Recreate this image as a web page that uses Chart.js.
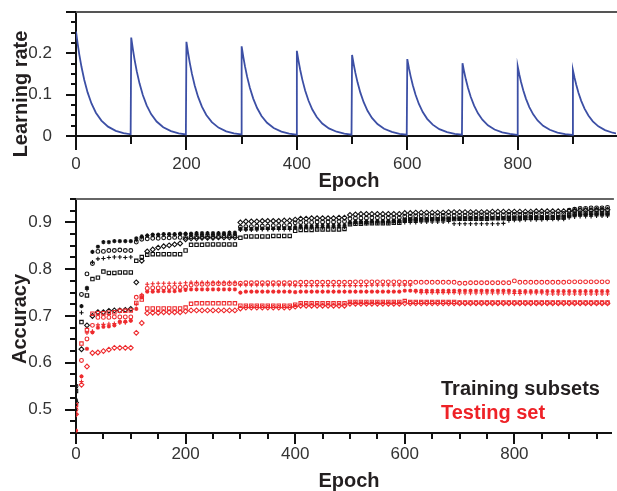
<!DOCTYPE html>
<html>
<head>
<meta charset="utf-8">
<script src="https://cdn.jsdelivr.net/npm/chart.js@4.4.1/dist/chart.umd.min.js"></script>
<style>
  body { margin: 0; background: #fff; width: 617px; height: 491px; overflow: hidden; position: relative; font-family: "Liberation Sans", Arial, sans-serif; }
  canvas { position: absolute; left: 0; }
  #lrChart { top: 0; }
  #accChart { top: 190px; }
  .lbl { position: absolute; font-weight: bold; font-size: 20px; line-height: 20px; white-space: nowrap; color: #231f20; }
</style>
</head>
<body>
<canvas id="lrChart" width="617" height="190"></canvas>
<canvas id="accChart" width="617" height="301"></canvas>

<div class="lbl" style="left:20px; top:94px; transform:translate(-50%,-50%) rotate(-90deg);">Learning rate</div>
<div class="lbl" style="left:349px; top:180px; transform:translate(-50%,-50%);">Epoch</div>
<div class="lbl" style="left:19px; top:319px; transform:translate(-50%,-50%) rotate(-90deg);">Accuracy</div>
<div class="lbl" style="left:349px; top:480px; transform:translate(-50%,-50%);">Epoch</div>
<div class="lbl" style="left:441px; top:388px; transform:translateY(-50%);">Training subsets</div>
<div class="lbl" style="left:441px; top:412px; transform:translateY(-50%); color:#ee2227;">Testing set</div>

<script>
// ---- learning rate schedule (restart every 100 epochs) ----
const cycleStarts = [0, 100, 200, 300, 400, 500, 600, 700, 800, 900];
const lrOffsets = [0, 3, 6, 10, 15, 21, 28, 36, 46, 58, 72, 86, 99];
const lrByCycle = [
  [0.253, 0.2233, 0.197, 0.1668, 0.1354, 0.1055, 0.0788, 0.0564, 0.0372, 0.0226, 0.0126, 0.007, 0.0041],
  [0.238, 0.21, 0.1854, 0.1569, 0.1274, 0.0992, 0.0741, 0.0531, 0.035, 0.0212, 0.0119, 0.0066, 0.0039],
  [0.228, 0.2012, 0.1776, 0.1503, 0.122, 0.0951, 0.071, 0.0509, 0.0335, 0.0203, 0.0114, 0.0063, 0.0037],
  [0.217, 0.1915, 0.169, 0.143, 0.1162, 0.0905, 0.0676, 0.0484, 0.0319, 0.0194, 0.0108, 0.006, 0.0035],
  [0.206, 0.1818, 0.1604, 0.1358, 0.1103, 0.0859, 0.0641, 0.046, 0.0303, 0.0184, 0.0103, 0.0057, 0.0033],
  [0.196, 0.173, 0.1526, 0.1292, 0.1049, 0.0817, 0.061, 0.0437, 0.0288, 0.0175, 0.0098, 0.0054, 0.0032],
  [0.186, 0.1641, 0.1449, 0.1226, 0.0996, 0.0775, 0.0579, 0.0415, 0.0274, 0.0166, 0.0093, 0.0052, 0.003],
  [0.176, 0.1553, 0.1371, 0.116, 0.0942, 0.0734, 0.0548, 0.0393, 0.0259, 0.0157, 0.0088, 0.0049, 0.0029],
  [0.168, 0.1483, 0.1308, 0.1107, 0.0899, 0.07, 0.0523, 0.0375, 0.0247, 0.015, 0.0084, 0.0047, 0.0027],
  [0.159, 0.1403, 0.1238, 0.1048, 0.0851, 0.0663, 0.0495, 0.0355, 0.0234, 0.0142, 0.0079, 0.0044, 0.0026]
];
const lrTickLabels = [0, 0.1, 0.2];
const epochTickLabels = [0, 200, 400, 600, 800];
const accTickLabels = [0.5, 0.6, 0.7, 0.8, 0.9];

// ---- accuracy, one point every 10 epochs ----
const epochs = [
  0, 10, 20, 30, 40, 50, 60, 70, 80, 90,
  100, 110, 120, 130, 140, 150, 160, 170, 180, 190,
  200, 210, 220, 230, 240, 250, 260, 270, 280, 290,
  300, 310, 320, 330, 340, 350, 360, 370, 380, 390,
  400, 410, 420, 430, 440, 450, 460, 470, 480, 490,
  500, 510, 520, 530, 540, 550, 560, 570, 580, 590,
  600, 610, 620, 630, 640, 650, 660, 670, 680, 690,
  700, 710, 720, 730, 740, 750, 760, 770, 780, 790,
  800, 810, 820, 830, 840, 850, 860, 870, 880, 890,
  900, 910, 920, 930, 940, 950, 960, 970
];

// training subsets (black)
const trainStar = [
  0.52, 0.721, 0.76, 0.837, 0.848, 0.858, 0.858, 0.86, 0.86, 0.86,
  0.86, 0.866, 0.87, 0.872, 0.874, 0.874, 0.875, 0.875, 0.875, 0.876,
  0.876, 0.876, 0.877, 0.877, 0.877, 0.877, 0.877, 0.877, 0.878, 0.878,
  0.886, 0.886, 0.886, 0.887, 0.887, 0.887, 0.887, 0.888, 0.888, 0.888,
  0.89, 0.892, 0.892, 0.892, 0.893, 0.893, 0.893, 0.893, 0.894, 0.894,
  0.9, 0.902, 0.902, 0.902, 0.903, 0.903, 0.903, 0.903, 0.904, 0.904,
  0.905, 0.906, 0.906, 0.907, 0.907, 0.907, 0.907, 0.908, 0.908, 0.908,
  0.908, 0.909, 0.909, 0.909, 0.909, 0.909, 0.909, 0.909, 0.909, 0.91,
  0.91, 0.91, 0.911, 0.911, 0.911, 0.911, 0.911, 0.912, 0.912, 0.912,
  0.914, 0.916, 0.917, 0.917, 0.917, 0.918, 0.918, 0.918
];
const trainPlus = [
  0.51, 0.707, 0.757, 0.815, 0.822, 0.823, 0.825, 0.826, 0.826, 0.825,
  0.826, 0.862, 0.868, 0.872, 0.873, 0.873, 0.874, 0.874, 0.874, 0.875,
  0.875, 0.873, 0.874, 0.874, 0.874, 0.874, 0.875, 0.875, 0.875, 0.875,
  0.884, 0.884, 0.884, 0.884, 0.885, 0.885, 0.885, 0.885, 0.885, 0.885,
  0.888, 0.889, 0.889, 0.889, 0.889, 0.889, 0.89, 0.89, 0.89, 0.89,
  0.897, 0.898, 0.898, 0.898, 0.899, 0.899, 0.899, 0.899, 0.9, 0.9,
  0.9, 0.9, 0.9, 0.901, 0.901, 0.901, 0.901, 0.901, 0.902, 0.897,
  0.897, 0.897, 0.897, 0.897, 0.897, 0.897, 0.897, 0.897, 0.898, 0.904,
  0.905, 0.905, 0.906, 0.906, 0.906, 0.906, 0.907, 0.907, 0.907, 0.907,
  0.91, 0.912, 0.913, 0.913, 0.913, 0.914, 0.914, 0.914
];
const trainCircle = [
  0.55, 0.746, 0.79, 0.812, 0.838, 0.838, 0.84, 0.84, 0.841, 0.84,
  0.84, 0.858, 0.864, 0.865, 0.866, 0.866, 0.867, 0.867, 0.868, 0.868,
  0.868, 0.869, 0.869, 0.87, 0.87, 0.87, 0.87, 0.871, 0.871, 0.871,
  0.89, 0.891, 0.891, 0.892, 0.892, 0.892, 0.893, 0.893, 0.893, 0.894,
  0.899, 0.9, 0.9, 0.9, 0.901, 0.901, 0.901, 0.901, 0.902, 0.902,
  0.908, 0.909, 0.909, 0.909, 0.91, 0.91, 0.91, 0.91, 0.91, 0.91,
  0.913, 0.913, 0.914, 0.914, 0.914, 0.914, 0.914, 0.915, 0.915, 0.915,
  0.915, 0.915, 0.916, 0.916, 0.916, 0.916, 0.916, 0.916, 0.916, 0.917,
  0.917, 0.917, 0.917, 0.918, 0.918, 0.918, 0.918, 0.918, 0.918, 0.919,
  0.926, 0.928, 0.93, 0.93, 0.931, 0.931, 0.931, 0.932
];
const trainSquare = [
  0.54, 0.687, 0.744, 0.779, 0.782, 0.795, 0.792, 0.792, 0.793, 0.793,
  0.793, 0.818, 0.826, 0.831, 0.832, 0.832, 0.832, 0.832, 0.832, 0.832,
  0.84, 0.852, 0.852, 0.852, 0.853, 0.853, 0.853, 0.853, 0.853, 0.853,
  0.867, 0.87, 0.87, 0.87, 0.87, 0.87, 0.871, 0.871, 0.871, 0.871,
  0.882, 0.884, 0.884, 0.884, 0.885, 0.885, 0.885, 0.885, 0.885, 0.886,
  0.896, 0.897, 0.897, 0.898, 0.898, 0.898, 0.898, 0.898, 0.899, 0.899,
  0.905, 0.906, 0.906, 0.906, 0.906, 0.907, 0.907, 0.907, 0.907, 0.907,
  0.908, 0.908, 0.908, 0.908, 0.908, 0.908, 0.909, 0.909, 0.909, 0.909,
  0.909, 0.909, 0.91, 0.91, 0.91, 0.91, 0.91, 0.91, 0.911, 0.911,
  0.916, 0.918, 0.919, 0.919, 0.92, 0.92, 0.92, 0.92
];
const trainDiamond = [
  0.515, 0.629, 0.68, 0.7, 0.708, 0.708, 0.711, 0.712, 0.712, 0.713,
  0.715, 0.772, 0.818, 0.838, 0.842, 0.846, 0.849, 0.851, 0.853, 0.855,
  0.864, 0.866, 0.866, 0.867, 0.867, 0.867, 0.868, 0.868, 0.868, 0.868,
  0.9, 0.902, 0.902, 0.902, 0.903, 0.903, 0.903, 0.903, 0.904, 0.904,
  0.906, 0.908, 0.908, 0.909, 0.909, 0.909, 0.909, 0.909, 0.91, 0.91,
  0.916, 0.917, 0.918, 0.918, 0.918, 0.918, 0.918, 0.918, 0.918, 0.918,
  0.92, 0.92, 0.921, 0.921, 0.921, 0.921, 0.921, 0.921, 0.922, 0.922,
  0.922, 0.922, 0.922, 0.922, 0.922, 0.922, 0.923, 0.923, 0.923, 0.923,
  0.923, 0.923, 0.923, 0.923, 0.924, 0.924, 0.924, 0.924, 0.924, 0.924,
  0.924, 0.925, 0.926, 0.926, 0.926, 0.927, 0.927, 0.927
];

// testing set (red)
const testCircle = [
  0.5, 0.605, 0.651, 0.68, 0.697, 0.697, 0.697, 0.698, 0.698, 0.698,
  0.698, 0.74, 0.743, 0.759, 0.76, 0.76, 0.76, 0.761, 0.761, 0.761,
  0.762, 0.766, 0.768, 0.768, 0.768, 0.769, 0.769, 0.769, 0.769, 0.769,
  0.77, 0.771, 0.771, 0.771, 0.771, 0.771, 0.771, 0.771, 0.771, 0.771,
  0.771, 0.772, 0.772, 0.772, 0.772, 0.772, 0.772, 0.772, 0.772, 0.772,
  0.772, 0.773, 0.773, 0.773, 0.773, 0.773, 0.773, 0.773, 0.773, 0.773,
  0.772, 0.772, 0.772, 0.772, 0.772, 0.772, 0.772, 0.772, 0.772, 0.772,
  0.77, 0.77, 0.771, 0.771, 0.771, 0.771, 0.771, 0.771, 0.771, 0.771,
  0.775, 0.772, 0.772, 0.772, 0.772, 0.772, 0.772, 0.772, 0.772, 0.772,
  0.773, 0.773, 0.773, 0.773, 0.773, 0.773, 0.773, 0.773
];
const testPlus = [
  0.49, 0.56, 0.664, 0.667, 0.681, 0.682, 0.683, 0.684, 0.685, 0.686,
  0.69, 0.725, 0.745, 0.768, 0.769, 0.77, 0.77, 0.77, 0.77, 0.77,
  0.771, 0.772, 0.772, 0.772, 0.772, 0.772, 0.772, 0.772, 0.772, 0.772,
  0.766, 0.766, 0.766, 0.766, 0.766, 0.766, 0.766, 0.766, 0.766, 0.766,
  0.765, 0.765, 0.765, 0.765, 0.765, 0.765, 0.765, 0.765, 0.765, 0.765,
  0.765, 0.765, 0.765, 0.765, 0.766, 0.766, 0.766, 0.766, 0.766, 0.766,
  0.766, 0.766, 0.752, 0.75, 0.75, 0.75, 0.75, 0.75, 0.75, 0.75,
  0.749, 0.749, 0.749, 0.749, 0.749, 0.749, 0.749, 0.749, 0.749, 0.749,
  0.748, 0.748, 0.749, 0.749, 0.749, 0.749, 0.747, 0.747, 0.747, 0.747,
  0.747, 0.747, 0.747, 0.747, 0.747, 0.747, 0.747, 0.747
];
const testStar = [
  0.455, 0.571, 0.63, 0.665, 0.675, 0.677, 0.678, 0.68, 0.688, 0.688,
  0.69, 0.715, 0.74, 0.752, 0.752, 0.753, 0.753, 0.753, 0.753, 0.754,
  0.756, 0.757, 0.757, 0.757, 0.757, 0.757, 0.757, 0.757, 0.757, 0.757,
  0.75, 0.752, 0.752, 0.752, 0.752, 0.752, 0.752, 0.752, 0.752, 0.752,
  0.751, 0.752, 0.752, 0.752, 0.752, 0.752, 0.752, 0.752, 0.752, 0.752,
  0.752, 0.752, 0.752, 0.752, 0.752, 0.752, 0.752, 0.752, 0.752, 0.752,
  0.754, 0.754, 0.754, 0.754, 0.754, 0.754, 0.754, 0.754, 0.754, 0.754,
  0.754, 0.754, 0.754, 0.754, 0.754, 0.754, 0.754, 0.754, 0.754, 0.754,
  0.753, 0.753, 0.753, 0.753, 0.753, 0.753, 0.753, 0.753, 0.753, 0.753,
  0.753, 0.753, 0.753, 0.753, 0.753, 0.753, 0.753, 0.753
];
const testSquare = [
  0.51, 0.641, 0.67, 0.705, 0.706, 0.706, 0.707, 0.708, 0.711, 0.711,
  0.712, 0.728, 0.735, 0.716, 0.716, 0.716, 0.716, 0.716, 0.716, 0.716,
  0.718, 0.726, 0.727, 0.727, 0.727, 0.727, 0.727, 0.727, 0.727, 0.727,
  0.722, 0.722, 0.722, 0.722, 0.722, 0.722, 0.722, 0.722, 0.722, 0.722,
  0.724, 0.727, 0.727, 0.727, 0.727, 0.727, 0.727, 0.727, 0.727, 0.727,
  0.73, 0.73, 0.73, 0.73, 0.73, 0.73, 0.73, 0.73, 0.73, 0.73,
  0.732, 0.73, 0.73, 0.73, 0.73, 0.73, 0.73, 0.73, 0.73, 0.73,
  0.729, 0.729, 0.729, 0.729, 0.729, 0.729, 0.729, 0.729, 0.729, 0.729,
  0.729, 0.729, 0.729, 0.729, 0.729, 0.729, 0.729, 0.729, 0.729, 0.729,
  0.729, 0.729, 0.729, 0.729, 0.729, 0.729, 0.729, 0.729
];
const testDiamond = [
  0.49, 0.553, 0.592, 0.621, 0.622, 0.625, 0.628, 0.632, 0.632, 0.632,
  0.632, 0.664, 0.685, 0.706, 0.707, 0.707, 0.708, 0.708, 0.708, 0.708,
  0.71, 0.712, 0.712, 0.712, 0.712, 0.712, 0.712, 0.712, 0.712, 0.712,
  0.716, 0.718, 0.718, 0.718, 0.718, 0.718, 0.718, 0.718, 0.718, 0.718,
  0.72, 0.722, 0.722, 0.722, 0.722, 0.722, 0.722, 0.722, 0.722, 0.722,
  0.726, 0.726, 0.726, 0.726, 0.726, 0.726, 0.726, 0.726, 0.726, 0.726,
  0.727, 0.727, 0.727, 0.727, 0.727, 0.727, 0.727, 0.727, 0.727, 0.727,
  0.727, 0.727, 0.727, 0.727, 0.727, 0.727, 0.727, 0.727, 0.727, 0.727,
  0.727, 0.727, 0.727, 0.727, 0.727, 0.727, 0.727, 0.727, 0.727, 0.727,
  0.727, 0.727, 0.727, 0.727, 0.727, 0.727, 0.727, 0.727
];

const BLACK = '#111111';
const RED = '#ee2b2e';
const FONT = '"Liberation Sans", Arial, sans-serif';

Chart.defaults.font.family = FONT;
Chart.defaults.color = '#333';

// outward tick marks, long at labelled values and short in between
const tickMarks = {
  id: 'tickMarks',
  afterDraw(chart, args, opts) {
    const ctx = chart.ctx;
    const area = chart.chartArea;
    ctx.save();
    // top frame line
    ctx.strokeStyle = opts.frameColor;
    ctx.lineWidth = 2;
    ctx.beginPath();
    ctx.moveTo(area.left, area.top);
    ctx.lineTo(area.right + 2, area.top);
    ctx.stroke();

    ctx.strokeStyle = '#111';
    ctx.lineWidth = 2;
    ['x', 'y'].forEach(id => {
      const s = chart.scales[id];
      const o = opts[id];
      const start = Math.ceil(s.min / o.step - 1e-9);
      for (let i = start; ; i++) {
        const v = i * o.step;
        if (v > s.max + 1e-9) break;
        const r = v / o.major;
        const len = Math.abs(r - Math.round(r)) < 1e-6 ? o.majorLen : o.minorLen;
        const p = Math.round(s.getPixelForValue(v));
        ctx.beginPath();
        if (id === 'x') {
          ctx.moveTo(p, area.bottom);
          ctx.lineTo(p, area.bottom + len);
        } else {
          ctx.moveTo(area.left, p);
          ctx.lineTo(area.left - len, p);
        }
        ctx.stroke();
      }
    });
    ctx.restore();
  }
};

function xAxis(height, pad) {
  return {
    type: 'linear', min: 0, max: 978,
    grid: { display: false },
    border: { display: true, color: '#111', width: 2 },
    afterBuildTicks: s => { s.ticks = epochTickLabels.map(v => ({ value: v })); },
    ticks: {
      autoSkip: false, maxRotation: 0, padding: pad,
      font: { size: 17 },
      callback: v => String(v)
    },
    afterFit: s => { s.height = height; s.paddingLeft = 0; s.paddingRight = 0; }
  };
}

function yAxis(min, max, labels, fmt) {
  return {
    min: min, max: max,
    grid: { display: false },
    border: { display: true, color: '#111', width: 2 },
    afterBuildTicks: s => { s.ticks = labels.map(v => ({ value: v })); },
    ticks: {
      autoSkip: false, padding: 16,
      font: { size: 17 },
      callback: fmt
    },
    afterFit: s => { s.width = 76; s.paddingTop = 0; s.paddingBottom = 0; }
  };
}

// ---- top chart: learning rate ----
const lrPoints = [];
cycleStarts.forEach((c, ci) => {
  lrOffsets.forEach((off, k) => {
    lrPoints.push({ x: c + off, y: lrByCycle[ci][k] });
  });
});

new Chart(document.getElementById('lrChart'), {
  type: 'line',
  data: {
    datasets: [{
      data: lrPoints,
      borderColor: '#3c4fa5',
      borderWidth: 1.8,
      pointRadius: 0,
      tension: 0,
      fill: false
    }]
  },
  options: {
    responsive: false,
    animation: false,
    layout: { padding: { top: 12, right: 1, left: 0, bottom: 0 } },
    plugins: {
      legend: { display: false },
      tooltip: { enabled: false },
      tickMarks: {
        frameColor: '#555',
        x: { step: 100, major: 200, majorLen: 14, minorLen: 8 },
        y: { step: 0.025, major: 0.1, majorLen: 10, minorLen: 5 }
      }
    },
    scales: {
      x: xAxis(54, 10),
      y: yAxis(0, 0.3, lrTickLabels, v => (v === 0 ? '0' : v.toFixed(1)))
    }
  },
  plugins: [tickMarks]
});

// ---- bottom chart: accuracy ----
function series(values, style, color, radius) {
  return {
    data: epochs.map((e, i) => ({ x: e, y: values[i] })),
    pointStyle: style,
    pointRadius: radius,
    pointBorderWidth: 1.1,
    pointBorderColor: color,
    pointBackgroundColor: 'rgba(0,0,0,0)',
    showLine: false
  };
}

new Chart(document.getElementById('accChart'), {
  type: 'scatter',
  data: {
    datasets: [
      series(testDiamond, 'rectRot', RED, 2.4),
      series(testSquare, 'rect', RED, 2.4),
      series(testStar, 'star', RED, 2.1),
      series(testPlus, 'cross', RED, 2.1),
      series(testCircle, 'circle', RED, 1.9),
      series(trainDiamond, 'rectRot', BLACK, 2.4),
      series(trainSquare, 'rect', BLACK, 2.4),
      series(trainStar, 'star', BLACK, 2.1),
      series(trainPlus, 'cross', BLACK, 2.1),
      series(trainCircle, 'circle', BLACK, 1.9)
    ]
  },
  options: {
    responsive: false,
    animation: false,
    layout: { padding: { top: 9, right: 1, left: 0, bottom: 0 } },
    plugins: {
      legend: { display: false },
      tooltip: { enabled: false },
      tickMarks: {
        frameColor: '#666',
        x: { step: 50, major: 200, majorLen: 11, minorLen: 6 },
        y: { step: 0.025, major: 0.1, majorLen: 11, minorLen: 6 }
      }
    },
    scales: {
      x: xAxis(58, 3),
      y: yAxis(0.45, 0.95, accTickLabels, v => v.toFixed(1))
    }
  },
  plugins: [tickMarks]
});
</script>
</body>
</html>
